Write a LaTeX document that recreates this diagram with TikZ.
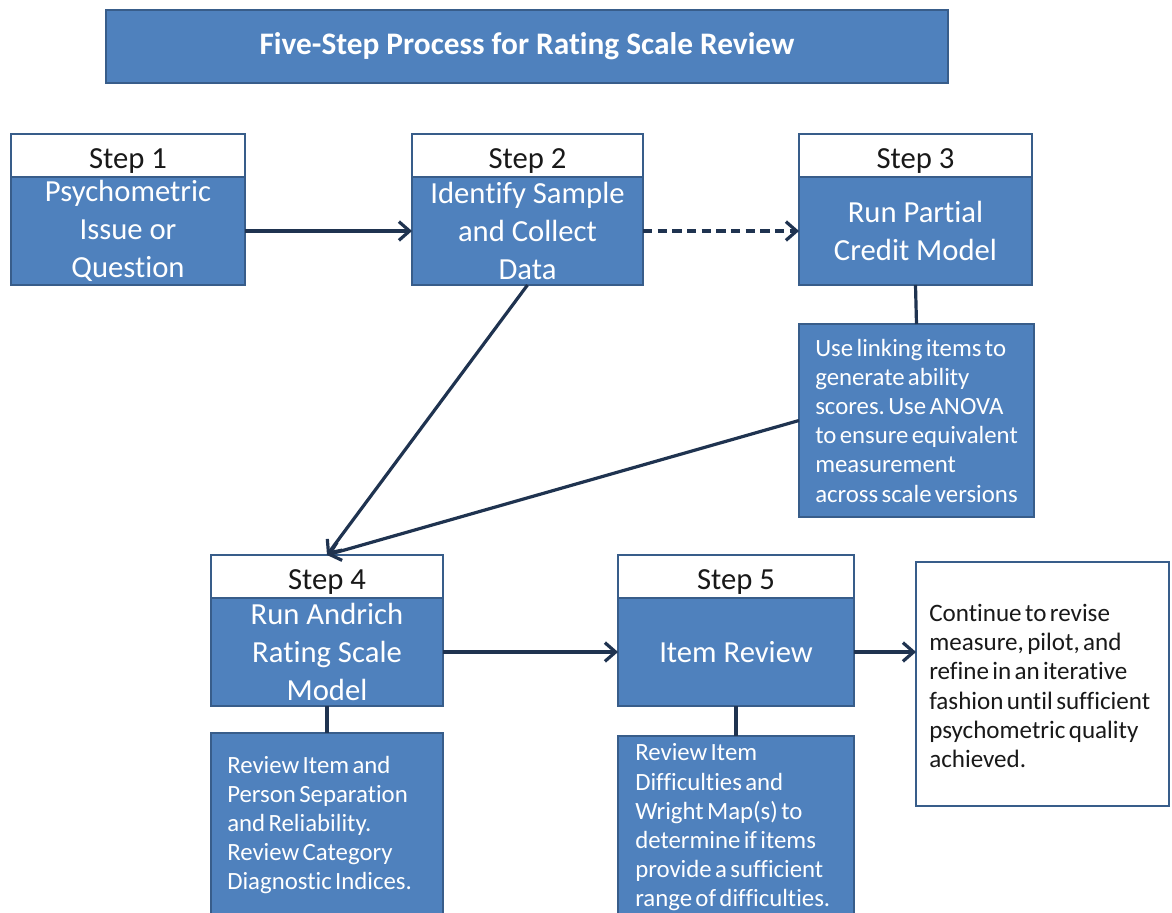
\documentclass[tikz,border=0pt]{standalone}
\usepackage{fontspec}
\setmainfont{Carlito}[Ligatures=NoCommon]
\newfontfamily\notefont{Carlito}[Ligatures=NoCommon, WordSpace=0.6]
\usetikzlibrary{arrows.meta}

\definecolor{boxblue}{HTML}{4F81BD}
\definecolor{boxedge}{HTML}{385D8A}
\definecolor{linknavy}{HTML}{1F3350}

\tikzset{
  x=0.75pt, y=-0.75pt,
  frame/.style={draw=boxedge, line width=2.2pt, inner sep=0pt, outer sep=0pt},
  titlebox/.style={frame, fill=boxblue, text=white,
    font=\fontsize{23.5}{28}\selectfont\bfseries,
    minimum width={842*0.75pt}, minimum height={73*0.75pt}},
  headbox/.style={frame, fill=white, text=black!90,
    font=\fontsize{23}{28}\selectfont, text depth=0pt, text height=20pt,
    minimum width={#1*0.75pt}, minimum height={43*0.75pt}},
  bodybox/.style={frame, fill=boxblue, text=white, align=center,
    font=\fontsize{23}{28.5}\selectfont,
    minimum width={#1*0.75pt}, minimum height={108*0.75pt}},
  % plain frame of a note; its text is set by a separate node
  noteframe/.style n args={2}{frame, fill=boxblue,
    minimum width={#1*0.75pt}, minimum height={#2*0.75pt}},
  endframe/.style n args={2}{frame, fill=white,
    minimum width={#1*0.75pt}, minimum height={#2*0.75pt}},
  notetext/.style={anchor=west, inner sep=0pt, align=left, text=white,
    font=\notefont\fontsize{18.6}{21.9}\selectfont},
  endtext/.style={notetext, text=black!90,
    font=\notefont\fontsize{18.8}{22}\selectfont},
  link/.style={draw=linknavy, line width=2.4pt},
  arrowlink/.style={link, -{Straight Barb[length=8pt,width=14pt]}},
  dashlink/.style={arrowlink, dash pattern=on 7pt off 4pt},
}

\begin{document}
\frenchspacing
\begin{tikzpicture}
\useasboundingbox (0,0) rectangle (1172,913);
\clip (0,0) rectangle (1172,913);

% title banner
\node[titlebox] (title) at (527,46.5) {Five-Step Process for Rating Scale Review};

% Step 1
\node[headbox=234] (h1) at (128,155.5) {Step 1};
\node[bodybox=234] (s1) at (128,231) {Psychometric\\Issue or\\Question};

% Step 2
\node[headbox=231] (h2) at (527.5,155.5) {Step 2};
\node[bodybox=231] (s2) at (527.5,231) {Identify Sample\\and Collect\\Data};

% Step 3
\node[headbox=233] (h3) at (915.5,155.5) {Step 3};
\node[bodybox=233] (s3) at (915.5,231) {Run Partial\\Credit Model};
\node[noteframe={235}{193}] (d3) at (916.5,420.5) {};
\node[notetext] (t3) at ([xshift=16*0.75pt]d3.west)
  {Use linking items to\\generate ability\\scores. Use ANOVA\\to ensure equivalent\\measurement\\across scale versions};

% Step 4
\node[headbox=232] (h4) at (327,576.5) {Step 4};
\node[bodybox=232] (s4) at (327,652) {Run Andrich\\Rating Scale\\Model};
\node[noteframe={232}{184}] (d4) at (327,825) {};
\node[notetext] (t4) at ([xshift=16*0.75pt]d4.west)
  {Review Item and\\Person Separation\\and Reliability.\\Review Category\\Diagnostic Indices.};

% Step 5
\node[headbox=236] (h5) at (736,576.5) {Step 5};
\node[bodybox=236] (s5) at (736,652) {Item Review};
\node[noteframe={236}{183}] (d5) at (736,827.5) {};
\node[notetext] (t5) at ([xshift=17*0.75pt]d5.west)
  {Review Item\\Difficulties and\\Wright Map(s) to\\determine if items\\provide a sufficient\\range of difficulties.};

% closing note
\node[endframe={253}{244}] (fin) at (1042.5,684) {};
\node[endtext] (tf) at ([xshift=13*0.75pt,yshift=-2*0.75pt]fin.west)
  {Continue to revise\\measure, pilot, and\\refine in an iterative\\fashion until sufficient\\psychometric quality\\achieved.};

% connectors
\draw[arrowlink] (s1.east) -- (s2.west);
\draw[dashlink] (s2.east) -- (s3.west);
\draw[link] (s3.south) -- (d3.north);
\draw[arrowlink] (s2.south) -- (h4.north);
\draw[arrowlink] (d3.west) -- (h4.north);
\draw[link] (s4.south) -- (d4.north);
\draw[arrowlink] (s4.east) -- (s5.west);
\draw[link] (s5.south) -- (d5.north);
\draw[arrowlink] (s5.east) -- (s5.east -| fin.west);
\end{tikzpicture}
\end{document}
